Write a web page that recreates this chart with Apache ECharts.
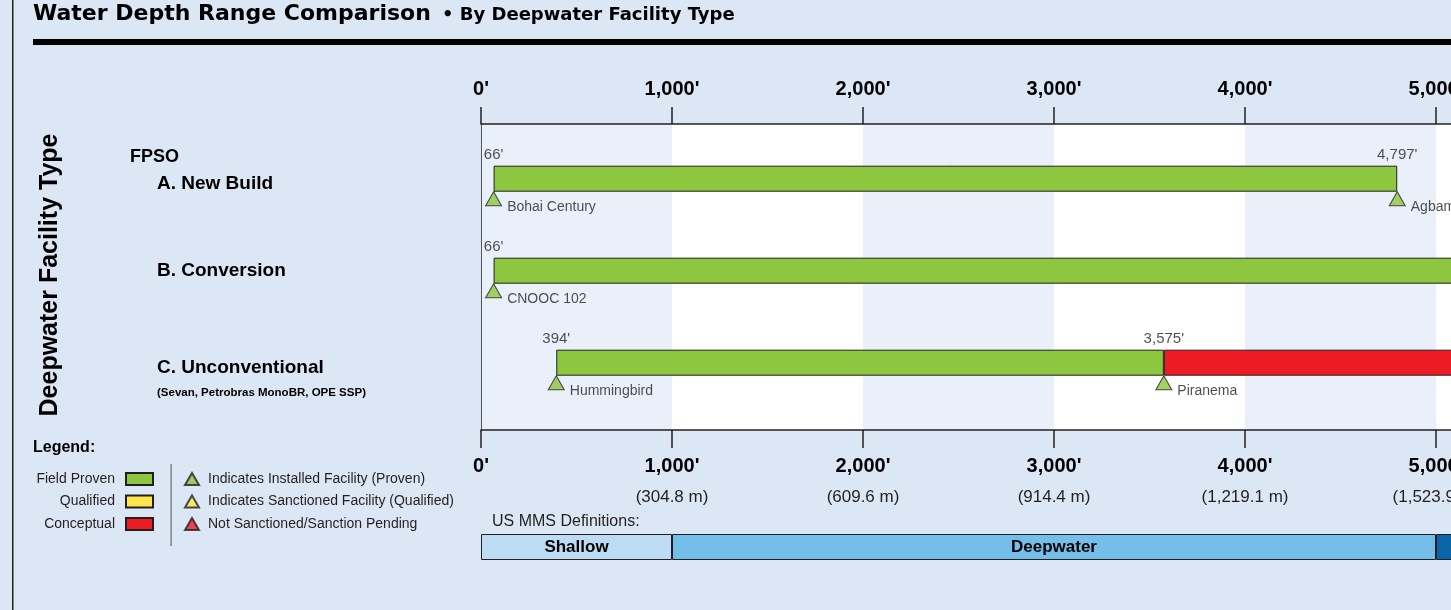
<!DOCTYPE html>
<html>
<head>
<meta charset="utf-8">
<title>Water Depth Range Comparison</title>
<script src="https://cdn.jsdelivr.net/npm/echarts@6/dist/echarts.min.js"></script>
<style>
  html, body { margin: 0; padding: 0; background: #dbe7f4; }
  #chart { width: 1451px; height: 610px; }
</style>
</head>
<body>
<div id="chart"></div>
<script>
// facility rows (top to bottom)
var facilityTypes = ['A. New Build', 'B. Conversion', 'C. Unconventional'];
var typeNotes = ['', '', '(Sevan, Petrobras MonoBR, OPE SSP)'];
var groupName = 'FPSO';

// depth ranges in feet
var provenStart = [66, 66, 394];
var provenEnd = [4797, 6500, 3575];     // B runs past the visible edge
var conceptEnd = [null, null, 10000];   // C conceptual part runs past the edge

// installed facilities (green triangles)
var siteNames = ['Bohai Century', 'Agbami', 'CNOOC 102', 'Hummingbird', 'Piranema'];
var siteDepths = [66, 4797, 66, 394, 3575];
var siteRows = [0, 0, 1, 2, 2];

// axis
var depthTicks = [0, 1000, 2000, 3000, 4000, 5000, 6000];
var metricLabels = ['', '(304.8 m)', '(609.6 m)', '(914.4 m)', '(1,219.1 m)', '(1,523.9 m)', '(1,828.8 m)'];

// US MMS definitions
var mmsZones = ['Shallow', 'Deepwater', 'Ultra-Deepwater'];
var mmsLimits = [0, 1000, 5000, 10000];

var SANS = '"Liberation Sans", Arial, sans-serif';
var INK = '#231f20';
var GREEN = '#8dc63f', YELLOW = '#ffe54c', RED = '#ed1c24';

var chart = echarts.init(document.getElementById('chart'), null, {renderer: 'canvas'});

function ft(v) { return v.toLocaleString('en-US') + "'"; }

// label points at the bar ends
var endLabels = [];
for (var i = 0; i < facilityTypes.length; i++) {
  endLabels.push([provenStart[i], facilityTypes[i], ft(provenStart[i])]);
  endLabels.push([provenEnd[i], facilityTypes[i], ft(provenEnd[i])]);
  if (conceptEnd[i] != null) endLabels.push([conceptEnd[i], facilityTypes[i], ft(conceptEnd[i])]);
}
var sites = siteNames.map(function (n, k) {
  return {value: [siteDepths[k], facilityTypes[siteRows[k]]], name: n};
});

var xMin = depthTicks[0], xMax = depthTicks[depthTicks.length - 1];
var plotW = 1146; // 191 px per 1,000 ft, runs past the right edge

var option = {
  backgroundColor: '#dbe7f4',
  animation: false,
  graphic: [
    {type: 'rect', left: 12, top: 0, shape: {width: 1.5, height: 610}, style: {fill: INK}},
    {type: 'rect', left: 33, top: 39, shape: {width: 1420, height: 6}, style: {fill: '#000'}},
    {type: 'text', x: 33, y: 14, style: {text: 'Water Depth Range Comparison', fill: '#000',
      font: 'bold 22px "DejaVu Sans"', verticalAlign: 'middle'}},
    {type: 'text', x: 442, y: 15.5, style: {text: '\u2022 By Deepwater Facility Type', fill: '#000',
      font: 'bold 18px "DejaVu Sans"', verticalAlign: 'middle'}},
    {type: 'text', x: 50, y: 275, rotation: Math.PI / 2, style: {text: 'Deepwater Facility Type', fill: '#000',
      font: 'bold 25px ' + SANS, align: 'center', verticalAlign: 'middle'}},
    {type: 'text', x: 33, y: 448, style: {text: 'Legend:', fill: '#000',
      font: 'bold 16px ' + SANS, verticalAlign: 'middle'}},
    {type: 'rect', left: 170.5, top: 464, shape: {width: 1.2, height: 82}, style: {fill: '#666'}},
    {type: 'text', x: 492, y: 522, style: {text: 'US MMS Definitions:', fill: INK,
      font: '16px ' + SANS, verticalAlign: 'middle'}}
  ],
  legend: [
    {
      data: ['Field Proven', 'Qualified', 'Conceptual'],
      orient: 'vertical', align: 'right', right: 1451 - 154, top: 472,
      padding: 0, itemGap: 8.5, itemWidth: 27, itemHeight: 12, icon: 'rect',
      selectedMode: false,
      textStyle: {fontFamily: SANS, fontSize: 14, color: INK, padding: [0, 6, 0, 0]}
    },
    {
      data: ['Indicates Installed Facility (Proven)', 'Indicates Sanctioned Facility (Qualified)', 'Not Sanctioned/Sanction Pending'],
      orient: 'vertical', align: 'left', left: 184, top: 472,
      padding: 0, itemGap: 8.5, itemWidth: 14, itemHeight: 12,
      selectedMode: false,
      textStyle: {fontFamily: SANS, fontSize: 14, color: INK, padding: [0, 0, 0, 4]}
    }
  ],
  grid: [
    {left: 481, top: 124, width: plotW, height: 306, outerBoundsMode: 'none'},     // bands + axes
    {left: 481, top: 132.7, width: plotW, height: 276, outerBoundsMode: 'none'},   // facility bars
    {left: 481, top: 534, width: plotW, height: 26, outerBoundsMode: 'none'}       // MMS definitions
  ],
  xAxis: [
    {
      gridIndex: 0, type: 'value', position: 'top', min: xMin, max: xMax, interval: 1000,
      axisLine: {onZero: false, lineStyle: {color: INK, width: 1.5}},
      axisTick: {length: 17, lineStyle: {color: INK, width: 1.5}},
      splitLine: {show: false},
      splitArea: {show: true, areaStyle: {color: ['#e9f0f9', '#ffffff']}},
      axisLabel: {margin: 25, fontFamily: SANS, fontWeight: 'bold', fontSize: 20, color: '#000',
        lineHeight: 20, formatter: function (v) { return ft(v); }}
    },
    {
      gridIndex: 0, type: 'value', position: 'bottom', min: xMin, max: xMax, interval: 1000,
      axisLine: {onZero: false, lineStyle: {color: INK, width: 1.5}},
      axisTick: {length: 18, lineStyle: {color: INK, width: 1.5}},
      splitLine: {show: false},
      axisLabel: {
        margin: 26, verticalAlign: 'top',
        formatter: function (v) {
          var m = metricLabels[depthTicks.indexOf(v)];
          return '{b|' + ft(v) + '}' + (m ? '\n{m|' + m + '}' : '');
        },
        rich: {
          b: {fontFamily: SANS, fontWeight: 'bold', fontSize: 20, lineHeight: 20, color: '#000'},
          m: {fontFamily: SANS, fontSize: 17, lineHeight: 42, color: INK}
        }
      }
    },
    {gridIndex: 1, type: 'value', min: xMin, max: xMax, show: false},
    {gridIndex: 2, type: 'value', min: xMin, max: xMax, show: false}
  ],
  yAxis: [
    {
      gridIndex: 0, type: 'value', min: 0, max: 1,
      axisLine: {show: true, onZero: false, lineStyle: {color: '#555', width: 1}},
      axisTick: {show: false}, axisLabel: {show: false}, splitLine: {show: false}
    },
    {
      gridIndex: 1, type: 'category', inverse: true, data: facilityTypes,
      axisLine: {show: false}, axisTick: {show: false},
      axisLabel: {
        interval: 0, margin: 351, align: 'left',
        formatter: function (v, idx) {
          if (idx === 0) return '{g|' + groupName + '}\n{t|' + v + '}\n{e| }';
          if (typeNotes[idx]) return '{e2| }\n{t|' + v + '}\n{s|' + typeNotes[idx] + '}';
          return '{t|' + v + '}';
        },
        rich: {
          g: {fontFamily: SANS, fontWeight: 'bold', fontSize: 18, lineHeight: 27, color: '#000'},
          t: {fontFamily: SANS, fontWeight: 'bold', fontSize: 19, lineHeight: 27, color: '#000', padding: [0, 0, 0, 27]},
          s: {fontFamily: SANS, fontWeight: 'bold', fontSize: 11.5, lineHeight: 22, color: '#000', padding: [0, 0, 0, 27]},
          e: {fontSize: 8, lineHeight: 16.4},
          e2: {fontSize: 8, lineHeight: 32.6}
        }
      }
    },
    {gridIndex: 2, type: 'category', data: ['US MMS'], show: false}
  ],
  series: [
    {
      name: 'base', type: 'bar', stack: 'range', xAxisIndex: 2, yAxisIndex: 1, barWidth: 26,
      itemStyle: {color: 'transparent'}, silent: true, data: provenStart
    },
    {
      name: 'Field Proven', type: 'bar', stack: 'range', xAxisIndex: 2, yAxisIndex: 1, barWidth: 26,
      itemStyle: {color: GREEN, borderColor: INK, borderWidth: 1},
      data: provenEnd.map(function (e, k) { return e - provenStart[k]; })
    },
    {
      name: 'Qualified', type: 'bar', stack: 'range', xAxisIndex: 2, yAxisIndex: 1, barWidth: 26,
      itemStyle: {color: YELLOW, borderColor: INK, borderWidth: 1},
      data: facilityTypes.map(function () { return null; })
    },
    {
      name: 'Conceptual', type: 'bar', stack: 'range', xAxisIndex: 2, yAxisIndex: 1, barWidth: 26,
      itemStyle: {color: RED, borderColor: INK, borderWidth: 1},
      data: conceptEnd.map(function (e, k) { return e == null ? null : e - provenEnd[k]; })
    },
    {
      name: 'depth labels', type: 'scatter', xAxisIndex: 2, yAxisIndex: 1,
      symbolSize: [1, 26], itemStyle: {color: 'transparent'}, silent: true,
      label: {show: true, position: 'top', distance: 3, fontFamily: SANS, fontSize: 15, color: INK,
        formatter: function (p) { return p.data[2]; }},
      data: endLabels
    },
    {
      name: 'Indicates Installed Facility (Proven)', type: 'scatter', xAxisIndex: 2, yAxisIndex: 1,
      symbol: 'triangle', symbolSize: [16, 14], symbolOffset: [0, 20],
      itemStyle: {color: GREEN, borderColor: INK, borderWidth: 1},
      label: {show: true, position: 'right', distance: 5, offset: [0, 8], fontFamily: SANS, fontSize: 14, color: INK,
        formatter: '{b}'},
      data: sites
    },
    {
      name: 'Indicates Sanctioned Facility (Qualified)', type: 'scatter', xAxisIndex: 2, yAxisIndex: 1,
      symbol: 'triangle', itemStyle: {color: YELLOW, borderColor: INK, borderWidth: 1}, data: []
    },
    {
      name: 'Not Sanctioned/Sanction Pending', type: 'scatter', xAxisIndex: 2, yAxisIndex: 1,
      symbol: 'triangle', itemStyle: {color: RED, borderColor: INK, borderWidth: 1}, data: []
    }
  ].concat(mmsZones.map(function (z, k) {
    var fills = ['#bddcf3', '#74bfea', '#0a64a8'];
    return {
      name: z, type: 'bar', stack: 'mms', xAxisIndex: 3, yAxisIndex: 2, barWidth: 26,
      itemStyle: {color: fills[k], borderColor: INK, borderWidth: 1},
      label: {show: true, position: 'inside', fontFamily: SANS, fontWeight: 'bold', fontSize: 17,
        color: k === 2 ? '#fff' : '#000', formatter: z},
      data: [mmsLimits[k + 1] - mmsLimits[k]]
    };
  }))
};

chart.setOption(option);
</script>
</body>
</html>
